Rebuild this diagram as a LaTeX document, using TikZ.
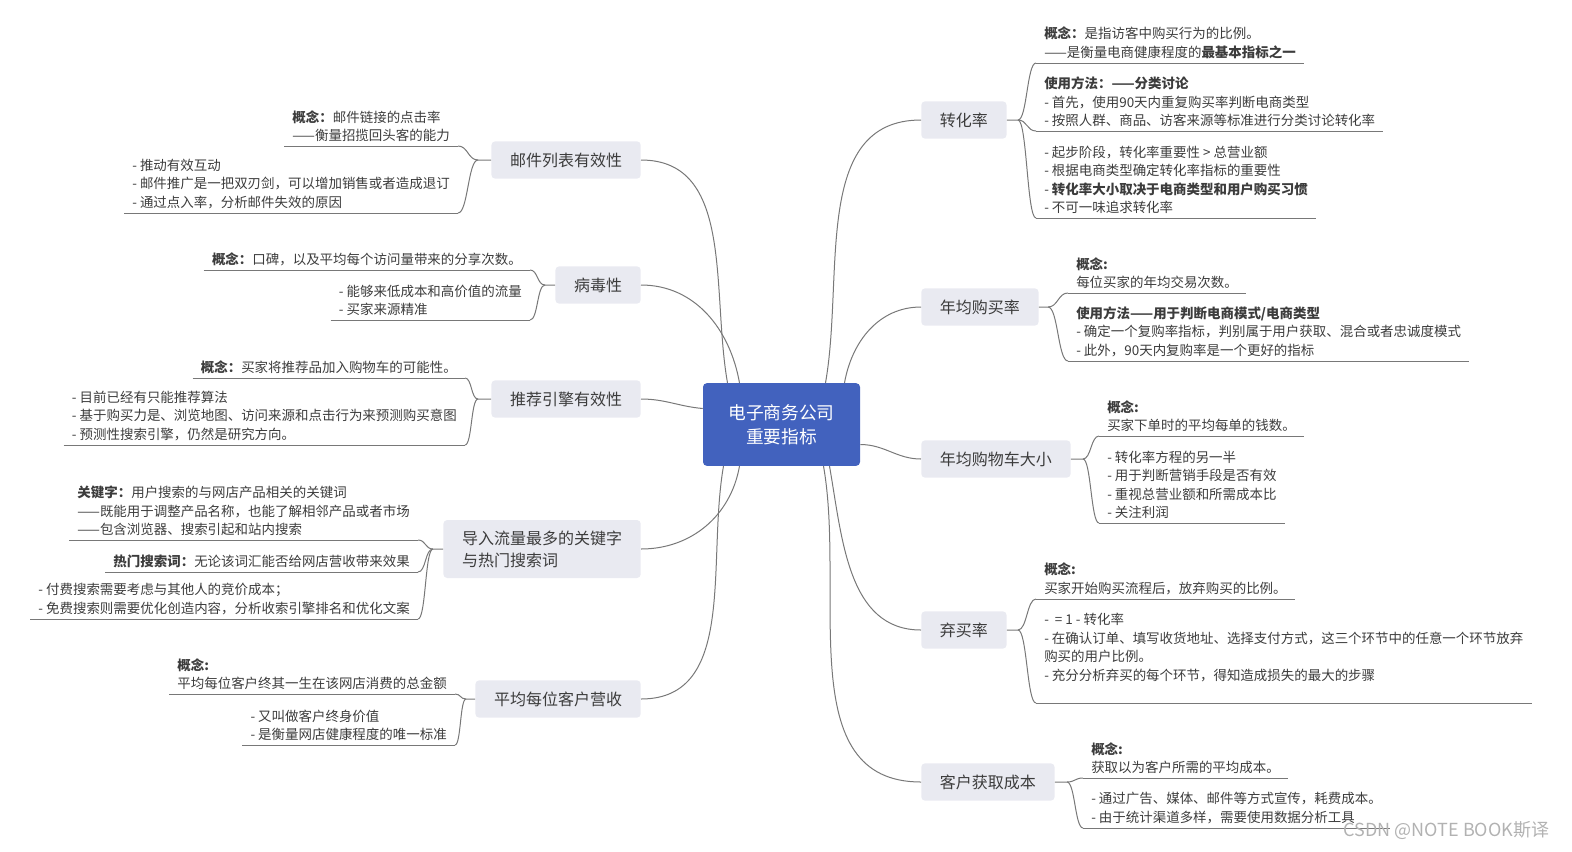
\documentclass[tikz,border=0pt]{standalone}
\usepackage{fontspec}
\setmainfont{Noto Sans CJK SC}
\usetikzlibrary{positioning,calc}
\definecolor{hubblue}{RGB}{66,98,190}
\definecolor{topicgray}{RGB}{233,234,241}
\definecolor{inkgray}{RGB}{60,60,60}
\definecolor{linegray}{RGB}{120,120,120}
\tikzset{hub/.style={rectangle, rounded corners=1mm, fill=hubblue, text=white, align=center, minimum width=117.75pt, minimum height=62pt, font=\fontsize{13.3}{18}\selectfont},
       topic/.style={rectangle, rounded corners=1mm, fill=topicgray, text=inkgray, minimum height=28pt, inner xsep=14pt, font=\fontsize{12}{16.5}\selectfont},
       detail/.style={align=left, text=inkgray, inner xsep=6pt, inner ysep=3pt, font=\fontsize{10.1}{13.9}\selectfont},
       link/.style={draw=linegray, line width=0.75pt}}

\begin{document}
\begin{tikzpicture}[x=0.75pt, y=-0.75pt]
\useasboundingbox (0,0) rectangle (1572,851);
% centre
\node [hub] (root) at (781.5,424.5) {电子商务公司\\重要指标};
% left topics
\node [topic, anchor=east] (mail) at (641,160) {邮件列表有效性};
\node [topic, anchor=east] (viral) at (641,285) {病毒性};
\node [topic, anchor=east] (recom) at (641,399) {推荐引擎有效性};
\node [topic, anchor=east, align=left, minimum height=43.5pt] (keyw) at (641,549) {导入流量最多的关键字\\与热门搜索词};
\node [topic, anchor=east] (rev) at (641,699) {平均每位客户营收};
% right topics
\node [topic, anchor=west] (conv) at (921,120) {转化率};
\node [topic, anchor=west] (freq) at (921,307) {年均购买率};
\node [topic, anchor=west] (cart) at (921,459) {年均购物车大小};
\node [topic, anchor=west] (aban) at (921,630) {弃买率};
\node [topic, anchor=west] (cac) at (921,782) {客户获取成本};

% centre to topics
\draw [link] ($(root.north)+(-54,0)$) to[out=100, in=0] (mail.east);
\draw [link] ($(root.north)+(-42,0)$) to[out=100, in=0] (viral.east);
\draw [link] ($(root.west)+(0,-16)$) to[out=175, in=0] (recom.east);
\draw [link] ($(root.south)+(-42,0)$) to[out=260, in=0] (keyw.east);
\draw [link] ($(root.south)+(-58,0)$) to[out=260, in=0] (rev.east);
\draw [link] ($(root.north)+(44,0)$) to[out=80, in=180] (conv.west);
\draw [link] ($(root.north)+(63,0)$) to[out=80, in=180] (freq.west);
\draw [link] ($(root.east)+(0,20)$) to[out=0, in=180] (cart.west);
\draw [link] ($(root.south)+(48,0)$) to[out=280, in=180] (aban.west);
\draw [link] ($(root.south)+(42,0)$) to[out=280, in=180] (cac.west);

% junctions
\coordinate (mailJ) at (478,160);
\coordinate (viralJ) at (545,285);
\coordinate (recomJ) at (478,399);
\coordinate (keywJ) at (433,549);
\coordinate (revJ) at (466,699);
\coordinate (convJ) at (1018,120);
\coordinate (freqJ) at (1048,307);
\coordinate (cartJ) at (1083,459);
\coordinate (abanJ) at (1018,630);
\coordinate (cacJ) at (1067,782);

% left details
\node [detail, anchor=south east] (mailA) at (458,146) {\textbf{概念：}邮件链接的点击率\\——衡量招揽回头客的能力};
\node [detail, anchor=south east] (mailB) at (458,213) {- 推动有效互动\\- 邮件推广是一把双刃剑，可以增加销售或者造成退订\\- 通过点入率，分析邮件失效的原因};
\node [detail, anchor=south east] (viralA) at (530,270) {\textbf{概念：}口碑，以及平均每个访问量带来的分享次数。};
\node [detail, anchor=south east] (viralB) at (530,320) {- 能够来低成本和高价值的流量\\- 买家来源精准};
\node [detail, anchor=south east] (recomA) at (465,378) {\textbf{概念：}买家将推荐品加入购物车的可能性。};
\node [detail, anchor=south east] (recomB) at (465,445) {- 目前已经有只能推荐算法\\- 基于购买力是、浏览地图、访问来源和点击行为来预测购买意图\\- 预测性搜索引擎，仍然是研究方向。};
\node [detail, anchor=south east] (keywA) at (418,540) {\textbf{关键字：}用户搜索的与网店产品相关的关键词\\——既能用于调整产品名称，也能了解相邻产品或者市场\\——包含浏览器、搜索引起和站内搜索};
\node [detail, anchor=south east] (keywB) at (418,572) {\textbf{热门搜索词：}无论该词汇能否给网店营收带来效果};
\node [detail, anchor=south east] (keywC) at (418,619) {- 付费搜索需要考虑与其他人的竞价成本；\\- 免费搜索则需要优化创造内容，分析收索引擎排名和优化文案};
\node [detail, anchor=south east] (revA) at (455,694) {\textbf{概念:}\\平均每位客户终其一生在该网店消费的总金额};
\node [detail, anchor=south east] (revB) at (455,745) {- 又叫做客户终身价值\\- 是衡量网店健康程度的唯一标准};

% right details
\node [detail, anchor=south west] (convA) at (1036,63) {\textbf{概念：}是指访客中购买行为的比例。\\——是衡量电商健康程度的\textbf{最基本指标之一}};
\node [detail, anchor=south west] (convB) at (1036,131) {\textbf{使用方法：——分类讨论}\\- 首先，使用90天内重复购买率判断电商类型\\- 按照人群、商品、访客来源等标准进行分类讨论转化率};
\node [detail, anchor=south west] (convC) at (1036,218) {- 起步阶段，转化率重要性 > 总营业额\\- 根据电商类型确定转化率指标的重要性\\- \textbf{转化率大小取决于电商类型和用户购买习惯}\\- 不可一味追求转化率};
\node [detail, anchor=south west] (freqA) at (1068,293) {\textbf{概念:}\\每位买家的年均交易次数。};
\node [detail, anchor=south west] (freqB) at (1068,361) {\textbf{使用方法——用于判断电商模式/电商类型}\\- 确定一个复购率指标，判别属于用户获取、混合或者忠诚度模式\\- 此外，90天内复购率是一个更好的指标};
\node [detail, anchor=south west] (cartA) at (1099,436) {\textbf{概念:}\\买家下单时的平均每单的钱数。};
\node [detail, anchor=south west] (cartB) at (1099,523) {- 转化率方程的另一半\\- 用于判断营销手段是否有效\\- 重视总营业额和所需成本比\\- 关注利润};
\node [detail, anchor=south west] (abanA) at (1036,599) {\textbf{概念:}\\买家开始购买流程后，放弃购买的比例。};
\node [detail, anchor=south west] (abanB) at (1036,703) {-\ \ = 1 - 转化率\\- 在确认订单、填写收货地址、选择支付方式，这三个环节中的任意一个环节放弃\\购买的用户比例。\\- 充分分析弃买的每个环节，得知造成损失的最大的步骤\\~};
\node [detail, anchor=south west] (cacA) at (1083,778) {\textbf{概念:}\\获取以为客户所需的平均成本。};
\node [detail, anchor=south west] (cacB) at (1083,828) {- 通过广告、媒体、邮件等方式宣传，耗费成本。\\- 由于统计渠道多样，需要使用数据分析工具};

% underlines
\foreach \g in {mailA,mailB,viralA,viralB,recomA,recomB,keywA,keywB,keywC,revA,revB,convA,convB,convC,freqA,freqB,cartA,cartB,abanA,abanB,cacA,cacB}
  \draw [link] (\g.south west) -- (\g.south east);

% topics to details, left
\draw [link] (mail.west) -- (mailJ) .. controls +(-10,0) and +(10,0) .. (mailA.south east);
\draw [link] (mailJ) .. controls +(-10,0) and +(10,0) .. (mailB.south east);
\draw [link] (viral.west) -- (viralJ) .. controls +(-8,0) and +(8,0) .. (viralA.south east);
\draw [link] (viralJ) .. controls +(-8,0) and +(8,0) .. (viralB.south east);
\draw [link] (recom.west) -- (recomJ) .. controls +(-7,0) and +(7,0) .. (recomA.south east);
\draw [link] (recomJ) .. controls +(-7,0) and +(7,0) .. (recomB.south east);
\draw [link] (keyw.west) -- (keywJ) .. controls +(-8,0) and +(8,0) .. (keywA.south east);
\draw [link] (keywJ) .. controls +(-8,0) and +(8,0) .. (keywB.south east);
\draw [link] (keywJ) .. controls +(-8,0) and +(8,0) .. (keywC.south east);
\draw [link] (rev.west) -- (revJ) .. controls +(-6,0) and +(6,0) .. (revA.south east);
\draw [link] (revJ) .. controls +(-6,0) and +(6,0) .. (revB.south east);
% topics to details, right
\draw [link] (conv.east) -- (convJ) .. controls +(9,0) and +(-9,0) .. (convA.south west);
\draw [link] (convJ) .. controls +(9,0) and +(-9,0) .. (convB.south west);
\draw [link] (convJ) .. controls +(9,0) and +(-9,0) .. (convC.south west);
\draw [link] (freq.east) -- (freqJ) .. controls +(10,0) and +(-10,0) .. (freqA.south west);
\draw [link] (freqJ) .. controls +(10,0) and +(-10,0) .. (freqB.south west);
\draw [link] (cart.east) -- (cartJ) .. controls +(8,0) and +(-8,0) .. (cartA.south west);
\draw [link] (cartJ) .. controls +(8,0) and +(-8,0) .. (cartB.south west);
\draw [link] (aban.east) -- (abanJ) .. controls +(9,0) and +(-9,0) .. (abanA.south west);
\draw [link] (abanJ) .. controls +(9,0) and +(-9,0) .. (abanB.south west);
\draw [link] (cac.east) -- (cacJ) .. controls +(8,0) and +(-8,0) .. (cacA.south west);
\draw [link] (cacJ) .. controls +(8,0) and +(-8,0) .. (cacB.south west);

% watermark
\node [text=gray!60, font=\fontsize{13.5}{15}\selectfont, anchor=east] (mark) at (1554,830) {CSDN @NOTE BOOK斯译};
\end{tikzpicture}
\end{document}
